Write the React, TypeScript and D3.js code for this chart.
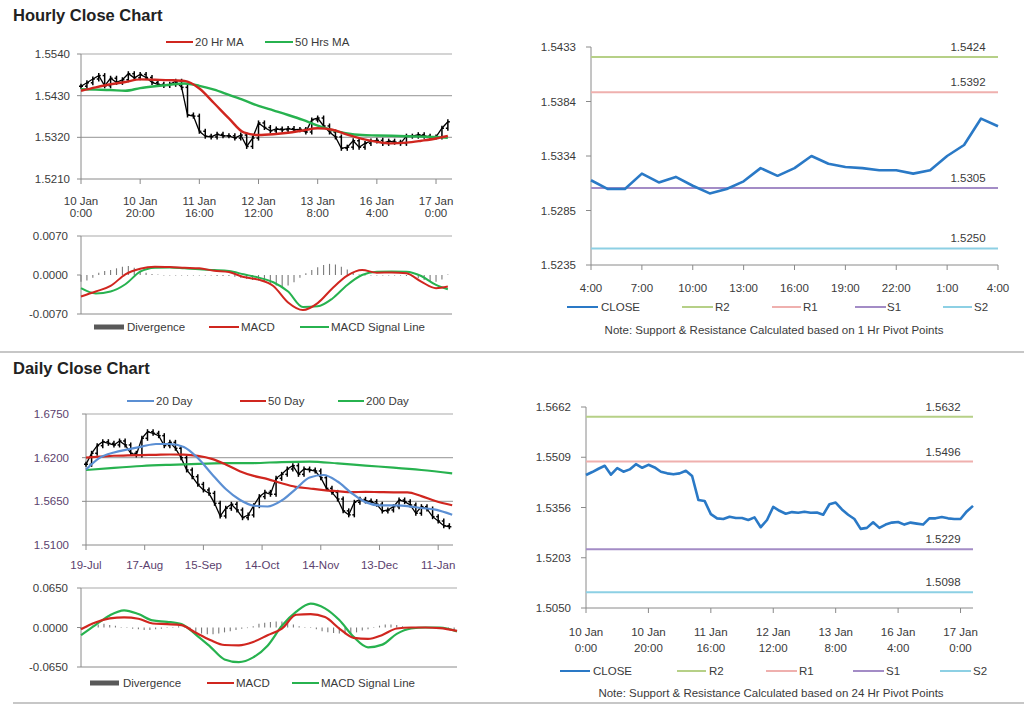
import React from "react";
import * as d3 from "d3";

const FONT = "'Liberation Sans', Arial, Helvetica, sans-serif";
const TEXT = "#3a3a3a";
const GRID = "#a9a9a9";
const AXIS = "#8a8a8a";
const RED = "#d0261f";
const GREEN = "#27b24f";
const BLUE_MA = "#5b8fd3";
const CLOSE_BLUE = "#2a79c6";
const R2_C = "#b6d087";
const R1_C = "#efb0ae";
const S1_C = "#a38cc6";
const S2_C = "#8dd0e4";

// ---------- hourly chart: 10 Jan 0:00 -> 17 Jan 4:00 (closes every 2 hours) ----------
const hourlyCloseHours = d3.range(0, 125, 2);
const hourlyCloses = [
  1.5455, 1.5464, 1.5474, 1.5483, 1.5456, 1.5476, 1.5465, 1.5472, 1.5488, 1.5477,
  1.5486, 1.5478, 1.5465, 1.546, 1.5457, 1.546, 1.5468, 1.5452, 1.5379, 1.5376,
  1.5336, 1.5323, 1.5321, 1.5328, 1.5324, 1.5324, 1.5318, 1.5326, 1.5296, 1.5318,
  1.5358, 1.5346, 1.5337, 1.5342, 1.534, 1.5343, 1.534, 1.5341, 1.5334, 1.5366,
  1.5371, 1.535, 1.5334, 1.5321, 1.5291, 1.5294, 1.5311, 1.5294, 1.5304, 1.531,
  1.5312, 1.5304, 1.531, 1.5307, 1.5304, 1.5323, 1.5323, 1.5327, 1.5323, 1.5321,
  1.5321, 1.5344, 1.5361,
];
const maHours = [...d3.range(0, 121, 5), 124];
const ma20Hr = [
  1.5443, 1.5452, 1.546, 1.5466, 1.5473, 1.5472, 1.5471, 1.5469, 1.5449, 1.541, 1.537,
  1.5333, 1.5326, 1.5328, 1.5332, 1.5338, 1.5344, 1.534, 1.5327, 1.5316, 1.5308, 1.5304,
  1.5306, 1.5311, 1.5317, 1.5324,
];
const ma50Hr = [
  1.5447, 1.5446, 1.5445, 1.5443, 1.545, 1.5455, 1.5459, 1.5462, 1.5456, 1.5446, 1.5432,
  1.5418, 1.5403, 1.5391, 1.5379, 1.5366, 1.5351, 1.5339, 1.533, 1.5326, 1.5325, 1.5324,
  1.5323, 1.5322, 1.5321, 1.5319,
];
const hourMacd = [
  -0.00385, -0.00297, -0.00196, 0.00012, 0.00113, 0.00148, 0.00142, 0.0013, 0.00119,
  0.00077, 0.00053, -0.00036, -0.00083, -0.00196, -0.00492, -0.00629, -0.00504, -0.00237,
  -0.00012, 0.00089, 0.00042, 0.00047, 0.0003, -0.00119, -0.00237, -0.00208,
];
const hourSignal = [
  -0.00237, -0.00332, -0.00297, -0.00166, 0.00059, 0.0013, 0.00136, 0.00119, 0.00101,
  0.00089, 0.00071, 0.00012, -0.00047, -0.0013, -0.00297, -0.00575, -0.00563, -0.00421,
  -0.00178, 0, 0.00059, 0.00065, 0.00059, -0.00018, -0.00178, -0.00255,
];
const hourDivergence = [
  -0.0012, -0.001, -0.0005, 0.0004, 0.0007, 0.0009, 0.0012, 0.0015, 0.0016, 0.0013,
  0.0008, 0.0004, 0.0002, 0.0001, 0, -0.0001, -0.0001, -0.0001, -0.0001, -0.0001,
  -0.0001, -0.0001, -0.0001, -0.0002, -0.0002, -0.0002, -0.0003, -0.0005, -0.0007, -0.0009,
  -0.001, -0.0012, -0.0015, -0.0019, -0.0021, -0.0019, -0.0013, -0.0005, 0.0003, 0.0009,
  0.0014, 0.0018, 0.002, 0.0019, 0.0015, 0.001, 0.0004, 0.0001, -0.0001, -0.0001,
  -0.0001, -0.0001, -0.0001, -0.0001, -0.0001, -0.0002, -0.0003, -0.0006, -0.0009, -0.0011,
  -0.0012, -0.0008, 0.0001,
];
const hourPriceTicks = ["1.5210", "1.5320", "1.5430", "1.5540"];
const hourMacdTicks = ["-0.0070", "0.0000", "0.0070"];
const hourTickHours = [0, 20, 40, 60, 80, 100, 120];
const hourTickDays = ["10 Jan", "10 Jan", "11 Jan", "12 Jan", "13 Jan", "16 Jan", "17 Jan"];
const hourTickTimes = ["0:00", "20:00", "16:00", "12:00", "8:00", "4:00", "0:00"];

// ---------- last 24 hours with 1 hr pivots ----------
const pivotHours = d3.range(0, 25);
const pivotCloses = [
  1.5312, 1.5304, 1.5304, 1.5318, 1.531, 1.5315, 1.5307, 1.53, 1.5304, 1.5311, 1.5323,
  1.5316, 1.5323, 1.5334, 1.5327, 1.5324, 1.5323, 1.5321, 1.5321, 1.5318, 1.5321, 1.5334,
  1.5344, 1.5368, 1.5361,
];
const pivotTicks = ["1.5235", "1.5285", "1.5334", "1.5384", "1.5433"];
const pivotTimeLabels = ["4:00", "7:00", "10:00", "13:00", "16:00", "19:00", "22:00", "1:00", "4:00"];
const hourLevels = [1.5424, 1.5392, 1.5305, 1.525];

// ---------- daily chart: 19 Jul -> 17 Jan (closes every 2 days) ----------
const dailyCloseDays = d3.range(0, 131, 2);
const dailyCloses = [
  1.6116, 1.6255, 1.6351, 1.6401, 1.6381, 1.636, 1.641, 1.636, 1.6255, 1.6234, 1.6444,
  1.6527, 1.6507, 1.6477, 1.6351, 1.6393, 1.6318, 1.62, 1.6045, 1.5961, 1.5864, 1.5793,
  1.5751, 1.5625, 1.5465, 1.5562, 1.5613, 1.5541, 1.5444, 1.5478, 1.5595, 1.5709, 1.5763,
  1.5739, 1.594, 1.599, 1.6057, 1.6099, 1.599, 1.6057, 1.6045, 1.6032, 1.5948, 1.5814,
  1.5763, 1.5679, 1.553, 1.548, 1.5638, 1.5675, 1.5654, 1.5646, 1.5613, 1.5528, 1.5541,
  1.5583, 1.5667, 1.5646, 1.5604, 1.55, 1.5583, 1.5554, 1.5457, 1.5402, 1.5343, 1.533,
];
const maDays = [...d3.range(0, 126, 5), 131];
const ma20Day = [
  1.605, 1.62, 1.6265, 1.6305, 1.634, 1.6372, 1.6372, 1.6335, 1.6195, 1.5995, 1.5805,
  1.567, 1.5595, 1.5585, 1.566, 1.5805, 1.595, 1.5982, 1.59, 1.5755, 1.564, 1.56, 1.5598,
  1.559, 1.5566, 1.5545, 1.548,
];
const ma50Day = [
  1.62, 1.6212, 1.6224, 1.6228, 1.6232, 1.6236, 1.624, 1.6238, 1.6222, 1.6185, 1.6115,
  1.603, 1.597, 1.593, 1.5877, 1.5833, 1.5812, 1.5792, 1.5778, 1.5765, 1.577, 1.5766,
  1.5763, 1.5763, 1.5715, 1.5655, 1.56,
];
const longMaDays = [...d3.range(0, 121, 10), 131];
const ma200Day = [
  1.6045, 1.6072, 1.6095, 1.611, 1.6122, 1.613, 1.6132, 1.6145, 1.615, 1.6128, 1.61, 1.6075,
  1.6045, 1.6003,
];
const dayMacd = [
  -0.0028, 0.0083, 0.0149, 0.0166, 0.0144, 0.0066, 0.0055, 0.0039, -0.0088, -0.0205,
  -0.0288, -0.0293, -0.0238, -0.0127, -0.0017, 0.021, 0.0221, 0.0171, -0.0017, -0.0171,
  -0.0188, -0.0122, -0.0017, 0, 0, -0.0011, -0.0055,
];
const daySignal = [
  -0.0127, 0.0039, 0.0199, 0.0282, 0.0221, 0.0116, 0.0094, 0.0055, -0.0116, -0.0315,
  -0.0525, -0.057, -0.0492, -0.0299, 0.0028, 0.026, 0.0393, 0.0315, 0.0122, -0.0155,
  -0.0326, -0.0282, -0.0105, -0.0017, 0, 0, -0.0066,
];
const dayDivergence = [
  -0.003, 0, 0.003, 0.005, 0.006, 0.004, 0.003, 0.001, -0.001, -0.002, -0.003, -0.004,
  -0.004, -0.003, -0.002, -0.001, 0.001, 0.002, 0, -0.004, -0.008, -0.01, -0.011, -0.011,
  -0.01, -0.008, -0.006, -0.004, -0.002, 0, 0.002, 0.006, 0.008, 0.009, 0.01, 0.01, 0.008,
  0.005, 0.002, 0.001, -0.001, -0.003, -0.006, -0.008, -0.009, -0.01, -0.011, -0.01,
  -0.008, -0.005, -0.003, 0, 0.003, 0.005, 0.005, 0.004, 0.002, 0.001, 0, 0, 0, 0, -0.001,
  -0.002, -0.004, -0.005,
];
const dayPriceTicks = ["1.5100", "1.5650", "1.6200", "1.6750"];
const dayMacdTicks = ["-0.0650", "0.0000", "0.0650"];
const dayTickDays = [0, 21, 42, 63, 84, 105, 126];
const dayTickLabels = ["19-Jul", "17-Aug", "15-Sep", "14-Oct", "14-Nov", "13-Dec", "11-Jan"];

// ---------- 24 hr pivots over the hourly closes ----------
const dayPivotTicks = ["1.5050", "1.5203", "1.5356", "1.5509", "1.5662"];
const dayLevels = [1.5632, 1.5496, 1.5229, 1.5098];
const levelColors = [R2_C, R1_C, S1_C, S2_C];
const levelNames = ["R2", "R1", "S1", "S2"];

type Line = { xs: number[]; ys: number[]; color: string; width: number };
type Box = { left: number; right: number; top: number; bottom: number };

function T(props: React.SVGProps<SVGTextElement> & { children: React.ReactNode }) {
  return <text fontFamily={FONT} fontSize={11.5} fill={TEXT} {...props} />;
}

function PriceChart(p: {
  box: Box;
  xDomain: [number, number];
  yTicks: string[];
  closeX: number[];
  closes: number[];
  lines: Line[];
  tickX: number[];
  labels: string[][];
  labelY: number;
  labelColor: string;
  yLabelGap: number;
}) {
  const { left, right, top, bottom } = p.box;
  const x = d3.scaleLinear().domain(p.xDomain).range([left, right]);
  const yv = p.yTicks.map(Number);
  const y = d3.scaleLinear().domain([yv[0], yv[yv.length - 1]]).range([bottom, top]);
  const closePath =
    d3
      .line<number>()
      .x((_, k) => x(p.closeX[k]))
      .y((v) => y(v))(p.closes) ?? "";
  return (
    <g>
      {yv.slice(1).map((v) => (
        <line key={v} x1={left} x2={right} y1={y(v)} y2={y(v)} stroke={GRID} strokeWidth={1.2} />
      ))}
      <line x1={left} x2={left} y1={top} y2={bottom} stroke={AXIS} />
      <line x1={left} x2={right} y1={bottom} y2={bottom} stroke={AXIS} />
      {yv.map((v, i) => (
        <g key={i}>
          <line x1={left - 4} x2={left} y1={y(v)} y2={y(v)} stroke={AXIS} />
          <T x={left - p.yLabelGap} y={y(v) + 4} textAnchor="end" fill={p.labelColor}>
            {p.yTicks[i]}
          </T>
        </g>
      ))}
      {p.tickX.map((t, i) => (
        <g key={i}>
          <line x1={x(t)} x2={x(t)} y1={bottom} y2={bottom + 5} stroke={AXIS} />
          {p.labels[i].map((s, j) => (
            <T key={j} x={x(t)} y={p.labelY + j * 12} textAnchor="middle" fill={p.labelColor}>
              {s}
            </T>
          ))}
        </g>
      ))}
      <path d={closePath} fill="none" stroke="#000" strokeWidth={1.3} />
      {p.closes.map((c, i) => {
        const o = i > 0 ? p.closes[i - 1] : c;
        const cx = x(p.closeX[i]);
        return (
          <g key={i} stroke="#000" strokeWidth={1.5}>
            <line x1={cx} x2={cx} y1={y(Math.max(o, c)) - 2.5} y2={y(Math.min(o, c)) + 2.5} />
            <line x1={cx - 2} x2={cx} y1={y(o)} y2={y(o)} />
            <line x1={cx} x2={cx + 2} y1={y(c)} y2={y(c)} />
          </g>
        );
      })}
      {p.lines.map((l, i) => (
        <path
          key={i}
          d={
            d3
              .line<number>()
              .x((_, k) => x(l.xs[k]))
              .y((v) => y(v))
              .curve(d3.curveMonotoneX)(l.ys) ?? ""
          }
          fill="none"
          stroke={l.color}
          strokeWidth={l.width}
        />
      ))}
    </g>
  );
}

function MacdChart(p: {
  box: Box;
  xDomain: [number, number];
  yTicks: string[];
  barX: number[];
  bars: number[];
  lines: Line[];
}) {
  const { left, right, top, bottom } = p.box;
  const x = d3.scaleLinear().domain(p.xDomain).range([left, right]);
  const yv = p.yTicks.map(Number);
  const y = d3.scaleLinear().domain([yv[0], yv[yv.length - 1]]).range([bottom, top]);
  return (
    <g>
      <line x1={left} x2={right} y1={top} y2={top} stroke={GRID} strokeWidth={1.2} />
      <line x1={left} x2={left} y1={top} y2={bottom} stroke={AXIS} />
      <line x1={left} x2={right} y1={bottom} y2={bottom} stroke={AXIS} />
      {yv.map((v, i) => (
        <g key={i}>
          <line x1={left - 4} x2={left} y1={y(v)} y2={y(v)} stroke={AXIS} />
          <T x={left - 13} y={y(v) + 4} textAnchor="end">
            {p.yTicks[i]}
          </T>
        </g>
      ))}
      {p.bars.map((b, i) => (
        <line
          key={i}
          x1={x(p.barX[i])}
          x2={x(p.barX[i])}
          y1={y(0)}
          y2={y(b) + (b === 0 ? 0.6 : 0)}
          stroke="#7a7a7a"
          strokeWidth={1.1}
        />
      ))}
      {p.lines.map((l, i) => (
        <path
          key={i}
          d={
            d3
              .line<number>()
              .x((_, k) => x(l.xs[k]))
              .y((v) => y(v))
              .curve(d3.curveMonotoneX)(l.ys) ?? ""
          }
          fill="none"
          stroke={l.color}
          strokeWidth={l.width}
        />
      ))}
    </g>
  );
}

function PivotChart(p: {
  box: Box;
  xDomain: [number, number];
  yTicks: string[];
  closeX: number[];
  closes: number[];
  levels: number[];
  tickX: number[];
  labels: string[][];
  labelY: number;
  lineGap: number;
}) {
  const { left, right, top, bottom } = p.box;
  const x = d3.scaleLinear().domain(p.xDomain).range([left, right]);
  const yv = p.yTicks.map(Number);
  const y = d3.scaleLinear().domain([yv[0], yv[yv.length - 1]]).range([bottom, top]);
  const yTickVals = d3.range(yv.length).map((i) => yv[0] + ((yv[yv.length - 1] - yv[0]) * i) / (yv.length - 1));
  return (
    <g>
      <line x1={left} x2={left} y1={top} y2={bottom} stroke={AXIS} />
      <line x1={left} x2={right} y1={bottom} y2={bottom} stroke={AXIS} />
      {yTickVals.map((v, i) => (
        <g key={i}>
          <line x1={left - 5} x2={left} y1={y(v)} y2={y(v)} stroke={AXIS} />
          <T x={left - 15} y={y(v) + 4} textAnchor="end">
            {p.yTicks[i]}
          </T>
        </g>
      ))}
      {p.tickX.map((t, i) => (
        <g key={i}>
          <line x1={x(t)} x2={x(t)} y1={bottom} y2={bottom + 5} stroke={AXIS} />
          {p.labels[i].map((s, j) => (
            <T key={j} x={x(t)} y={p.labelY + j * p.lineGap} textAnchor="middle">
              {s}
            </T>
          ))}
        </g>
      ))}
      {p.levels.map((lv, i) => (
        <g key={i}>
          <line x1={left} x2={right} y1={y(lv)} y2={y(lv)} stroke={levelColors[i]} strokeWidth={2} />
          <T x={right - 30} y={y(lv) - 6} textAnchor="middle">
            {lv.toFixed(4)}
          </T>
        </g>
      ))}
      <path
        d={
          d3
            .line<number>()
            .x((_, k) => x(p.closeX[k]))
            .y((v) => y(v))(p.closes) ?? ""
        }
        fill="none"
        stroke={CLOSE_BLUE}
        strokeWidth={2.6}
        strokeLinejoin="round"
      />
    </g>
  );
}

function LegLine({ x1, x2, y, color, label, tx }: { x1: number; x2: number; y: number; color: string; label: string; tx: number }) {
  return (
    <g>
      <line x1={x1} x2={x2} y1={y} y2={y} stroke={color} strokeWidth={2} />
      <T x={tx} y={y + 4}>
        {label}
      </T>
    </g>
  );
}

function LegBar({ x1, x2, y, label, tx }: { x1: number; x2: number; y: number; label: string; tx: number }) {
  return (
    <g>
      <rect x={x1} y={y - 2.5} width={x2 - x1} height={5} fill="#595959" />
      <T x={tx} y={y + 4}>
        {label}
      </T>
    </g>
  );
}

function PivotLegend({ y, xs, noteX, noteY, note }: { y: number; xs: number[][]; noteX: number; noteY: number; note: string }) {
  const names = ["CLOSE", ...levelNames];
  const colors = [CLOSE_BLUE, ...levelColors];
  return (
    <g>
      {names.map((n, i) => (
        <LegLine key={n} x1={xs[i][0]} x2={xs[i][1]} y={y} color={colors[i]} label={n} tx={xs[i][2]} />
      ))}
      <T x={noteX} y={noteY} textAnchor="middle">
        {note}
      </T>
    </g>
  );
}

export default function App() {
  const hourLabels = hourTickDays.map((d, i) => [d, hourTickTimes[i]]);
  return (
    <svg
      width={1024}
      height={706}
      viewBox="0 0 1024 706"
      style={{ position: "absolute", left: 0, top: 0, background: "#fff" }}
    >
      <rect width={1024} height={706} fill="#fff" />
      <text x={13} y={21} fontFamily={FONT} fontWeight="bold" fontSize={16.5} fill="#222">
        Hourly Close Chart
      </text>
      <text x={13} y={374} fontFamily={FONT} fontWeight="bold" fontSize={16.5} fill="#222">
        Daily Close Chart
      </text>
      <line x1={0} x2={1024} y1={352} y2={352} stroke="#b5b5b5" strokeWidth={1.5} />
      <line x1={13} x2={1024} y1={703} y2={703} stroke="#b5b5b5" strokeWidth={1.5} />

      {/* hourly price + MAs */}
      <LegLine x1={166} x2={193} y={42} color={RED} label="20 Hr MA" tx={195} />
      <LegLine x1={265} x2={293} y={42} color={GREEN} label="50 Hrs MA" tx={295} />
      <PriceChart
        box={{ left: 81, right: 452, top: 54, bottom: 179 }}
        xDomain={[0, 125.4]}
        yTicks={hourPriceTicks}
        closeX={hourlyCloseHours}
        closes={hourlyCloses}
        lines={[
          { xs: maHours, ys: ma50Hr, color: GREEN, width: 2.4 },
          { xs: maHours, ys: ma20Hr, color: RED, width: 2.4 },
        ]}
        tickX={hourTickHours}
        labels={hourLabels}
        labelY={205}
        labelColor={TEXT}
        yLabelGap={11}
      />

      {/* hourly MACD */}
      <MacdChart
        box={{ left: 81, right: 452, top: 236, bottom: 314 }}
        xDomain={[0, 125.4]}
        yTicks={hourMacdTicks}
        barX={hourlyCloseHours}
        bars={hourDivergence}
        lines={[
          { xs: maHours, ys: hourSignal, color: GREEN, width: 2 },
          { xs: maHours, ys: hourMacd, color: RED, width: 2 },
        ]}
      />
      <LegBar x1={94} x2={124} y={327} label="Divergence" tx={127} />
      <LegLine x1={209} x2={239} y={327} color={RED} label="MACD" tx={241} />
      <LegLine x1={300} x2={329} y={327} color={GREEN} label="MACD Signal Line" tx={331} />

      {/* 1 hr pivots */}
      <PivotChart
        box={{ left: 591, right: 998, top: 47, bottom: 265 }}
        xDomain={[0, 24]}
        yTicks={pivotTicks}
        closeX={pivotHours}
        closes={pivotCloses}
        levels={hourLevels}
        tickX={d3.range(0, 25, 3)}
        labels={pivotTimeLabels.map((s) => [s])}
        labelY={292}
        lineGap={0}
      />
      <PivotLegend
        y={307}
        xs={[
          [567, 598, 601],
          [682, 713, 715],
          [772, 801, 803],
          [855, 886, 887],
          [943, 972, 974],
        ]}
        noteX={774}
        noteY={334}
        note="Note: Support & Resistance Calculated based on 1 Hr Pivot Points"
      />

      {/* daily price + MAs */}
      <LegLine x1={127} x2={154} y={401} color={BLUE_MA} label="20 Day" tx={156} />
      <LegLine x1={240} x2={266} y={401} color={RED} label="50 Day" tx={268} />
      <LegLine x1={338} x2={364} y={401} color={GREEN} label="200 Day" tx={366} />
      <PriceChart
        box={{ left: 86, right: 453, top: 414, bottom: 545 }}
        xDomain={[0, 131.3]}
        yTicks={dayPriceTicks}
        closeX={dailyCloseDays}
        closes={dailyCloses}
        lines={[
          { xs: longMaDays, ys: ma200Day, color: GREEN, width: 2.2 },
          { xs: maDays, ys: ma50Day, color: RED, width: 2.2 },
          { xs: maDays, ys: ma20Day, color: BLUE_MA, width: 2.2 },
        ]}
        tickX={dayTickDays}
        labels={dayTickLabels.map((s) => [s])}
        labelY={569}
        labelColor="#5b3f6e"
        yLabelGap={17}
      />

      {/* daily MACD */}
      <MacdChart
        box={{ left: 81, right: 457, top: 588, bottom: 667 }}
        xDomain={[0, 131]}
        yTicks={dayMacdTicks}
        barX={dailyCloseDays}
        bars={dayDivergence}
        lines={[
          { xs: maDays, ys: daySignal, color: GREEN, width: 2.2 },
          { xs: maDays, ys: dayMacd, color: RED, width: 2.2 },
        ]}
      />
      <LegBar x1={90} x2={119} y={683} label="Divergence" tx={123} />
      <LegLine x1={207} x2={234} y={683} color={RED} label="MACD" tx={236} />
      <LegLine x1={292} x2={319} y={683} color={GREEN} label="MACD Signal Line" tx={321} />

      {/* 24 hr pivots */}
      <PivotChart
        box={{ left: 586, right: 973, top: 407, bottom: 608 }}
        xDomain={[0, 124]}
        yTicks={dayPivotTicks}
        closeX={hourlyCloseHours}
        closes={hourlyCloses}
        levels={dayLevels}
        tickX={hourTickHours}
        labels={hourLabels}
        labelY={636}
        lineGap={16}
      />
      <PivotLegend
        y={671}
        xs={[
          [560, 590, 593],
          [677, 706, 709],
          [766, 797, 799],
          [853, 884, 886],
          [940, 971, 973],
        ]}
        noteX={771}
        noteY={697}
        note="Note: Support & Resistance Calculated based on 24 Hr Pivot Points"
      />
    </svg>
  );
}
